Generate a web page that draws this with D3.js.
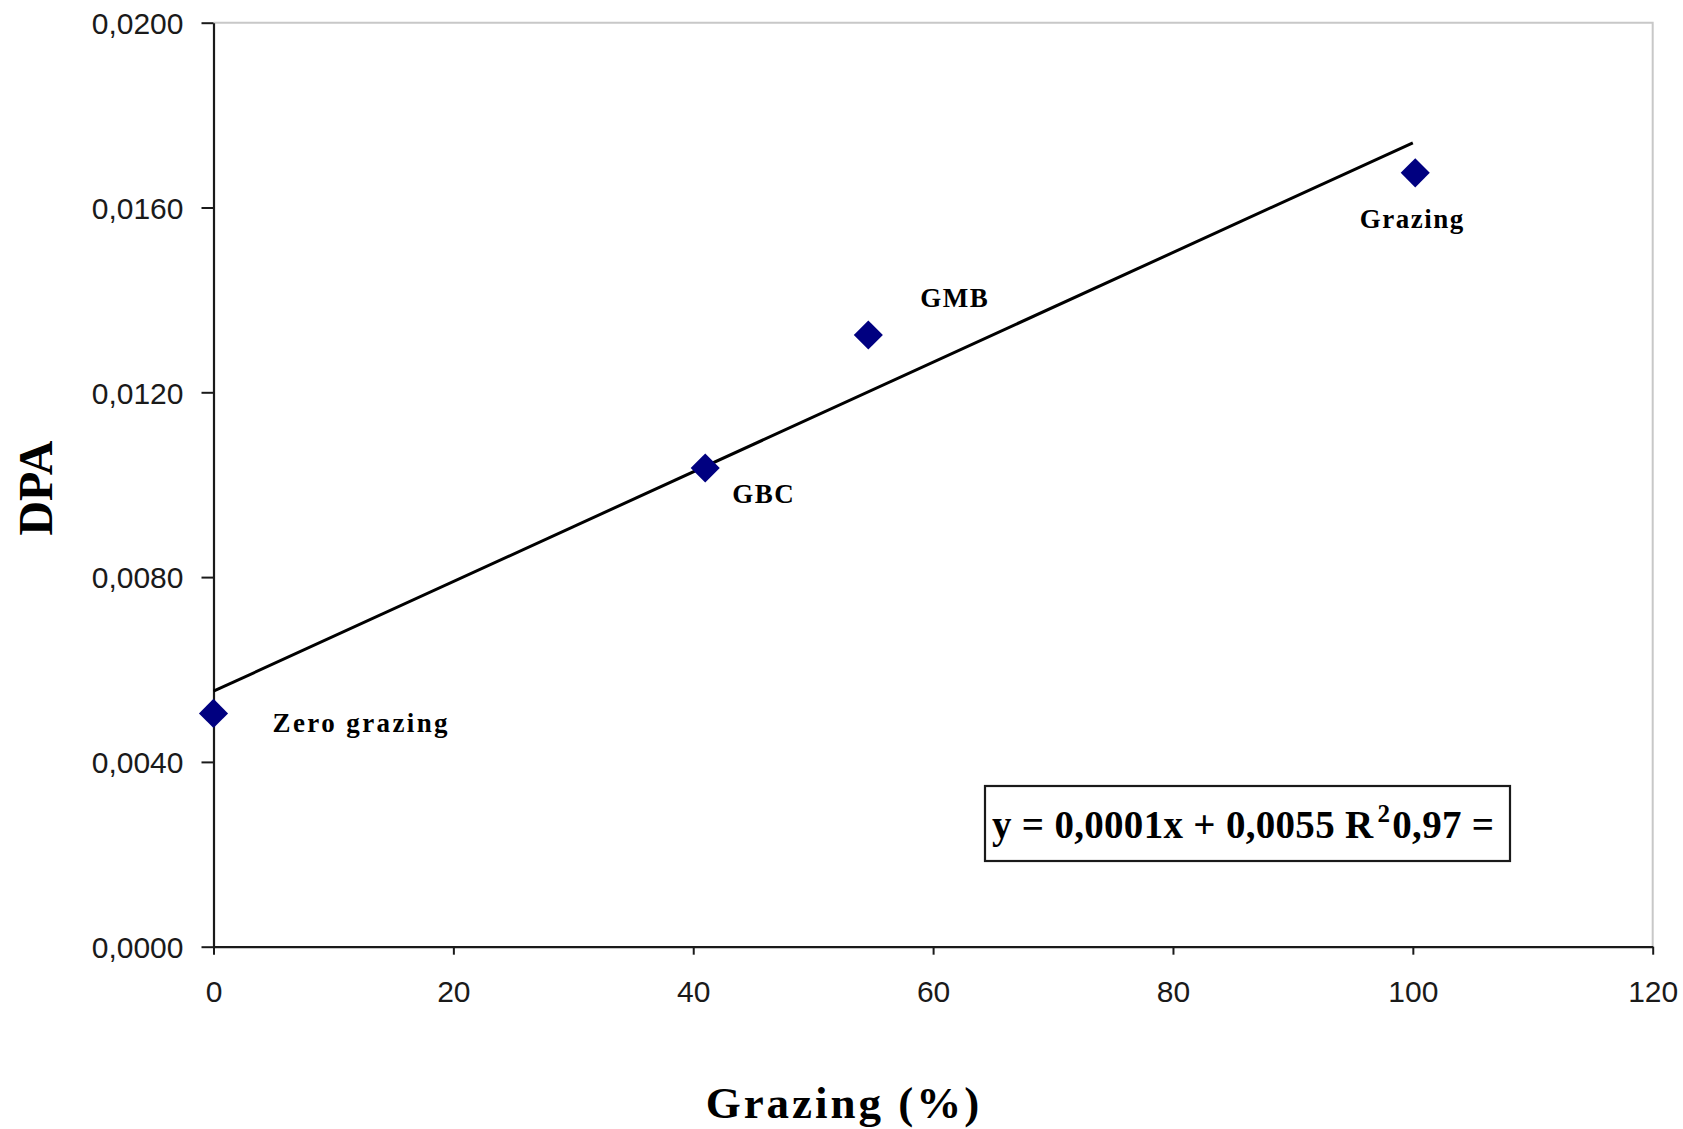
<!DOCTYPE html>
<html>
<head>
<meta charset="utf-8">
<script src="https://cdn.jsdelivr.net/npm/d3@7"></script>
<style>
  body { margin: 0; background: #fff; }
  svg { display: block; }
</style>
</head>
<body>
<script>
// chart data
let pointNames = ["Zero grazing", "GBC", "GMB", "Grazing"],
    grazingPct = [0, 41, 54.6, 100.2],
    dpaValues  = [0.00505, 0.01036, 0.01324, 0.01675];

// trend line endpoints as drawn
let trendX = [0, 100],
    trendY = [0.00553, 0.0174];

let xTicks = [0, 20, 40, 60, 80, 100, 120],
    yTicks = [0, 0.004, 0.008, 0.012, 0.016, 0.02];

let equationParts = ["y = 0,0001x + 0,0055 R", "2", "0,97 ="];

let width = 1683,
    height = 1129,
    margins = {top: 22.7, right: 30.3, bottom: 182.3, left: 213.5};

// label offsets from each point (px)
let labelOffsets = [
    {dx: 59, dy: 19, anchor: "start"},
    {dx: 27, dy: 35, anchor: "start"},
    {dx: 52, dy: -28, anchor: "start"},
    {dx: -3, dy: 55, anchor: "middle"}
];

let serif = "'Liberation Serif', 'Times New Roman', serif",
    sans = "'Liberation Sans', Arial, sans-serif";

let svg = d3.select("body").append("svg")
    .attr("width", width)
    .attr("height", height);

let xScale = d3.scaleLinear([0, 120], [margins.left, width - margins.right]);
let yScale = d3.scaleLinear([0, 0.02], [height - margins.bottom, margins.top]);

// grey frame on top and right
svg.append("path")
    .attr("d", `M${xScale(0)},${yScale(0.02)} H${xScale(120)} V${yScale(0)}`)
    .attr("fill", "none")
    .attr("stroke", "#c8c8c8")
    .attr("stroke-width", 2);

// axes
let fmt = d => d.toFixed(4).replace(".", ",");

let yAxis = svg.append("g")
    .attr("transform", translate(margins.left, 0))
    .call(d3.axisLeft(yScale).tickValues(yTicks).tickFormat(fmt).tickSize(12).tickPadding(18).tickSizeOuter(0));

let xAxis = svg.append("g")
    .attr("transform", translate(0, height - margins.bottom))
    .call(d3.axisBottom(xScale).tickValues(xTicks).tickFormat(d3.format("d")).tickSize(8).tickPadding(26).tickSizeOuter(0));

[xAxis, yAxis].forEach(a => {
    a.select(".domain").attr("stroke", "#1a1a1a").attr("stroke-width", 2.2);
    a.selectAll(".tick line").attr("stroke", "#1a1a1a").attr("stroke-width", 2);
    a.selectAll(".tick text")
        .attr("font-family", sans)
        .attr("font-size", 30)
        .attr("fill", "#1a1a1a");
});
yAxis.selectAll(".tick text").attr("dy", "0.36em");

// trend line
svg.append("line")
    .attr("x1", xScale(trendX[0]))
    .attr("y1", yScale(trendY[0]))
    .attr("x2", xScale(trendX[1]))
    .attr("y2", yScale(trendY[1]))
    .attr("stroke", "#000")
    .attr("stroke-width", 3);

// points
let points = pointNames.map((n, i) => ({name: n, x: grazingPct[i], y: dpaValues[i], off: labelOffsets[i]}));

svg.selectAll(".pt")
    .data(points)
    .enter().append("path")
    .attr("class", "pt")
    .attr("d", d3.symbol(d3.symbolDiamond2, 540))
    .attr("transform", d => translate(xScale(d.x), yScale(d.y)))
    .attr("fill", "#000080");

svg.selectAll(".lbl")
    .data(points)
    .enter().append("text")
    .attr("class", "lbl")
    .attr("x", d => xScale(d.x) + d.off.dx)
    .attr("y", d => yScale(d.y) + d.off.dy)
    .attr("text-anchor", d => d.off.anchor)
    .attr("font-family", serif)
    .attr("font-weight", "bold")
    .attr("font-size", 27)
    .attr("letter-spacing", d => d.name.length > 8 ? 2.4 : 1.5)
    .text(d => d.name);

// equation box
svg.append("rect")
    .attr("x", 985)
    .attr("y", 786)
    .attr("width", 525)
    .attr("height", 75)
    .attr("fill", "#fff")
    .attr("stroke", "#1a1a1a")
    .attr("stroke-width", 2.2);

let eq = svg.append("text")
    .attr("x", 992)
    .attr("y", 838)
    .attr("font-family", serif)
    .attr("font-weight", "bold")
    .attr("font-size", 39)
    .attr("letter-spacing", 0.3);
eq.append("tspan").text(equationParts[0]);
eq.append("tspan").attr("dx", 4).attr("dy", -16).attr("font-size", 25).text(equationParts[1]);
eq.append("tspan").attr("dx", 2).attr("dy", 16).text(equationParts[2]);

// axis titles
svg.append("text")
    .attr("transform", "translate(52, 488) rotate(-90)")
    .attr("text-anchor", "middle")
    .attr("font-family", serif)
    .attr("font-weight", "bold")
    .attr("font-size", 48)
    .text("DPA");

svg.append("text")
    .attr("x", 844)
    .attr("y", 1118)
    .attr("text-anchor", "middle")
    .attr("font-family", serif)
    .attr("font-weight", "bold")
    .attr("font-size", 45)
    .attr("letter-spacing", 3)
    .text("Grazing (%)");

function translate(x, y) {
    return `translate(${x}, ${y})`;
}
</script>
</body>
</html>
